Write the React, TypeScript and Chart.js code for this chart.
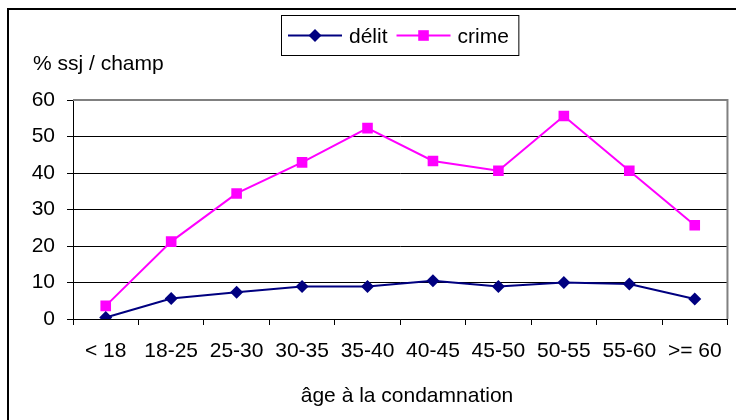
import React, { useEffect, useRef } from 'react';
import { Chart, registerables } from 'chart.js';

Chart.register(...registerables);

// Age groups at sentencing
const categories = ['< 18', '18-25', '25-30', '30-35', '35-40', '40-45', '45-50', '50-55', '55-60', '>= 60'];

// Share (%) per age group
const delitValues = [0.4, 5.6, 7.3, 8.9, 8.9, 10.5, 8.9, 10.0, 9.6, 5.5];
const crimeValues = [3.6, 21.2, 34.4, 42.9, 52.3, 43.3, 40.6, 55.6, 40.6, 25.7];

const seriesLabels = ['délit', 'crime'];
const seriesColors = ['#000080', '#FF00FF'];

const yMin = 0;
const yMax = 60;
const yStep = 10;

const yAxisTitle = '% ssj / champ';
const xAxisTitle = 'âge à la condamnation';

const FONT = "'Liberation Sans', Arial, Helvetica, sans-serif";

function drawMarker(ctx: CanvasRenderingContext2D, style: string, x: number, y: number, r: number, color: string) {
  ctx.fillStyle = color;
  ctx.beginPath();
  if (style === 'rectRot') {
    ctx.moveTo(x, y - r);
    ctx.lineTo(x + r, y);
    ctx.lineTo(x, y + r);
    ctx.lineTo(x - r, y);
    ctx.closePath();
  } else {
    const s = r * Math.SQRT1_2;
    ctx.rect(x - s, y - s, 2 * s, 2 * s);
  }
  ctx.fill();
}

const decorPlugin = {
  id: 'decor',
  beforeDraw(chart: any) {
    const ctx = chart.ctx;
    ctx.save();
    ctx.fillStyle = '#ffffff';
    ctx.fillRect(0, 0, chart.width, chart.height);
    ctx.restore();
  },
  afterDraw(chart: any) {
    const ctx: CanvasRenderingContext2D = chart.ctx;
    const a = chart.chartArea;
    ctx.save();

    // outer frame
    ctx.strokeStyle = '#000';
    ctx.lineWidth = 2;
    ctx.strokeRect(8, 9, chart.width + 40, chart.height + 40);

    // grey plot border (top and right)
    ctx.strokeStyle = '#808080';
    ctx.lineWidth = 2;
    ctx.beginPath();
    ctx.moveTo(a.left, a.top);
    ctx.lineTo(a.right, a.top);
    ctx.lineTo(a.right, a.bottom);
    ctx.stroke();

    // axis titles
    ctx.fillStyle = '#000';
    ctx.font = `21px ${FONT}`;
    ctx.textBaseline = 'alphabetic';
    ctx.textAlign = 'left';
    ctx.fillText(yAxisTitle, 33, 70);
    ctx.textAlign = 'center';
    ctx.fillText(xAxisTitle, 407, 402);

    // legend
    ctx.textAlign = 'left';
    const cy = 35.5;
    let x = 288;
    chart.data.datasets.forEach((ds: any) => {
      ctx.strokeStyle = ds.borderColor;
      ctx.lineWidth = 2;
      ctx.beginPath();
      ctx.moveTo(x, cy);
      ctx.lineTo(x + 54, cy);
      ctx.stroke();
      drawMarker(ctx, ds.pointStyle, x + 27, cy, ds.pointRadius, ds.borderColor);
      ctx.fillStyle = '#000';
      ctx.fillText(ds.label, x + 61, 42.5);
      x += 61 + ctx.measureText(ds.label).width + 9;
    });
    ctx.strokeStyle = '#000';
    ctx.lineWidth = 1;
    ctx.strokeRect(281.5, 15.5, x - 9 + 10 - 281.5, 40);

    ctx.restore();
  },
};

export default function App() {
  const canvasRef = useRef<HTMLCanvasElement | null>(null);

  useEffect(() => {
    const canvas = canvasRef.current;
    if (!canvas) return;
    const chart = new Chart(canvas, {
      type: 'line',
      data: {
        labels: categories,
        datasets: [
          {
            label: seriesLabels[0],
            data: delitValues,
            borderColor: seriesColors[0],
            backgroundColor: seriesColors[0],
            borderWidth: 2,
            pointStyle: 'rectRot',
            pointRadius: 6.5,
            pointHoverRadius: 6.5,
            pointBorderWidth: 0,
            pointBackgroundColor: seriesColors[0],
            tension: 0,
          },
          {
            label: seriesLabels[1],
            data: crimeValues,
            borderColor: seriesColors[1],
            backgroundColor: seriesColors[1],
            borderWidth: 2,
            pointStyle: 'rect',
            pointRadius: 7.5,
            pointHoverRadius: 7.5,
            pointBorderWidth: 0,
            pointBackgroundColor: seriesColors[1],
            tension: 0,
          },
        ],
      },
      options: {
        responsive: false,
        animation: false,
        events: [],
        layout: { padding: { top: 100, right: 8, left: 0, bottom: 0 } },
        plugins: {
          legend: { display: false },
          tooltip: { enabled: false },
          title: { display: false },
        },
        scales: {
          x: {
            type: 'category',
            offset: true,
            grid: {
              offset: true,
              drawOnChartArea: false,
              drawTicks: true,
              tickLength: 6,
              color: '#000',
            },
            border: { color: '#000', width: 1 },
            ticks: {
              color: '#000',
              font: { family: FONT, size: 21 },
              padding: 14,
              maxRotation: 0,
              autoSkip: false,
            },
            afterFit: (scale: any) => {
              scale.height = 101;
            },
          },
          y: {
            min: yMin,
            max: yMax,
            grid: {
              color: (c: any) => (c.tick && c.tick.value === yMax ? 'rgba(0,0,0,0)' : '#000'),
              tickColor: '#000',
              tickLength: 6,
              lineWidth: 1,
            },
            border: { color: '#000', width: 1 },
            ticks: {
              stepSize: yStep,
              color: '#000',
              font: { family: FONT, size: 21 },
              padding: 12,
            },
            afterFit: (scale: any) => {
              scale.width = 73;
            },
          },
        },
      },
      plugins: [decorPlugin],
    });
    return () => chart.destroy();
  }, []);

  return (
    <div style={{ position: 'absolute', left: 0, top: 0, width: 736, height: 420 }}>
      <canvas ref={canvasRef} width={736} height={420} style={{ display: 'block', width: 736, height: 420 }} />
    </div>
  );
}
